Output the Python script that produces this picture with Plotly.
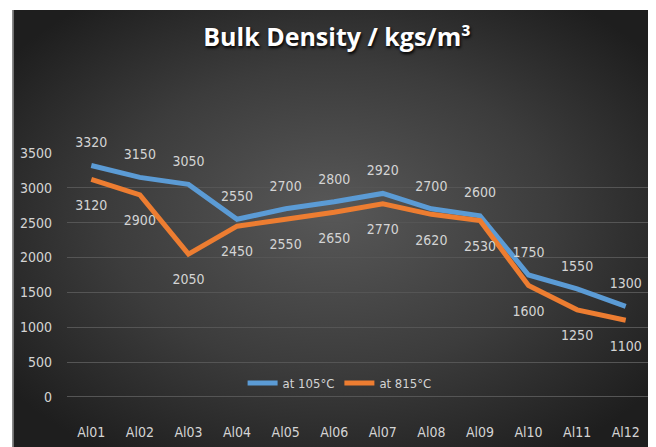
import base64
import plotly.graph_objects as go

categories = ["Al01", "Al02", "Al03", "Al04", "Al05", "Al06", "Al07", "Al08", "Al09", "Al10", "Al11", "Al12"]
at_105 = [3320, 3150, 3050, 2550, 2700, 2800, 2920, 2700, 2600, 1750, 1550, 1300]
at_815 = [3120, 2900, 2050, 2450, 2550, 2650, 2770, 2620, 2530, 1600, 1250, 1100]
y_ticks = [0, 500, 1000, 1500, 2000, 2500, 3000, 3500]

W, H = 656, 447
L, R, T, B = 56, 14, 145, 35
pw, ph = W - L - R, H - T - B

svg = '''<svg xmlns="http://www.w3.org/2000/svg" width="655" height="445" viewBox="0 0 655 445" preserveAspectRatio="none">
<defs><radialGradient id="g" cx="49%" cy="48%" r="62%" fx="49%" fy="45%">
<stop offset="0%" stop-color="#585858"/>
<stop offset="55%" stop-color="#3c3c3c"/>
<stop offset="100%" stop-color="#1e1e1e"/>
</radialGradient></defs>
<rect x="0" y="0" width="655" height="445" fill="url(#g)"/>
<rect x="0" y="0" width="1.5" height="445" fill="#8a8a8a"/>
</svg>'''
src = "data:image/svg+xml;base64," + base64.b64encode(svg.encode()).decode()

def px_x(p):
    return (p - L) / pw

def px_y(p):
    return (H - B - p) / ph

narrow = "DejaVu Sans Condensed, Liberation Sans Narrow, Arial Narrow, sans-serif"
label_font = dict(family=narrow, size=14, color="#d4d4d4")

fig = go.Figure()
fig.add_trace(go.Scatter(
    x=categories, y=at_105, name="at 105°C", mode="lines+markers+text",
    line=dict(color="#5B9BD5", width=5),
    marker=dict(size=22, color="rgba(0,0,0,0)", line=dict(width=0)),
    text=[str(v) for v in at_105], textposition="top center",
    textfont=label_font, cliponaxis=False,
))
fig.add_trace(go.Scatter(
    x=categories, y=at_815, name="at 815°C", mode="lines+markers+text",
    line=dict(color="#ED7D31", width=5),
    marker=dict(size=30, color="rgba(0,0,0,0)", line=dict(width=0)),
    text=[str(v) for v in at_815], textposition="bottom center",
    textfont=label_font, cliponaxis=False,
))

fig.update_layout(
    width=W, height=H, autosize=False,
    margin=dict(l=L, r=R, t=T, b=B, pad=0),
    paper_bgcolor="white", plot_bgcolor="rgba(0,0,0,0)",
    images=[dict(source=src, xref="paper", yref="paper",
                 x=px_x(1), y=px_y(2), sizex=(W - 1) / pw, sizey=(H - 2) / ph,
                 xanchor="left", yanchor="top", sizing="stretch", layer="below")],
    title=dict(text="<b>Bulk Density / kgs/m³</b>", xref="container", x=329 / W, xanchor="center",
               yref="container", y=1 - 29 / H, yanchor="middle",
               font=dict(family="Open Sans, sans-serif", size=25, color="white",
                         shadow="1px 2px 3px black")),
    showlegend=True,
    legend=dict(orientation="h", x=px_x(330), xanchor="center", y=px_y(375), yanchor="middle",
                bgcolor="rgba(0,0,0,0)",
                font=dict(family=narrow, size=13, color="#d4d4d4"),
                itemwidth=30, tracegroupgap=0),
    xaxis=dict(type="category", range=[-0.5, 11.5], showgrid=False, zeroline=False, showline=False,
               ticks="", tickfont=dict(family=narrow, size=14, color="#d4d4d4"),
               ticklabelstandoff=2),
    yaxis=dict(range=[-330, 3500], tickvals=y_ticks, showgrid=True, gridcolor="#555555", gridwidth=1,
               zeroline=False, showline=False, ticks="",
               tickfont=dict(family=narrow, size=14, color="#d4d4d4"),
               ticklabelstandoff=14),
)

fig.write_html("out.html", post_script="document.body.style.overflow='hidden';")
